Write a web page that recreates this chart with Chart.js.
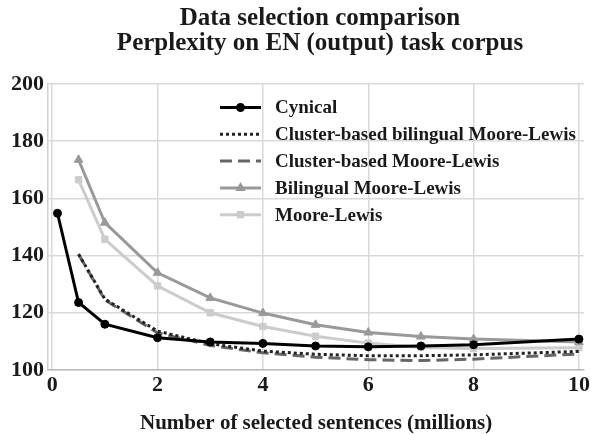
<!DOCTYPE html>
<html>
<head>
<meta charset="utf-8">
<script src="https://cdn.jsdelivr.net/npm/chart.js@4/dist/chart.umd.min.js"></script>
<style>
  html, body { margin: 0; padding: 0; background: #fff; }
  #wrap { width: 592px; height: 434px; }
</style>
</head>
<body>
<div id="wrap"><canvas id="perplexityChart"></canvas></div>
<script>
// Data
const titleLines = ['Data selection comparison', 'Perplexity on EN (output) task corpus'];
const seriesNames = ['Cynical', 'Cluster-based bilingual Moore-Lewis', 'Cluster-based Moore-Lewis', 'Bilingual Moore-Lewis', 'Moore-Lewis'];
const cynicalX = [0.1, 0.5, 1, 2, 3, 4, 5, 6, 7, 8, 10];
const cynicalY = [154.8, 123.6, 116, 111.3, 109.8, 109.3, 108.4, 108.1, 108.4, 108.8, 110.8];
const otherX = [0.5, 1, 2, 3, 4, 5, 6, 7, 8, 10];
const clusterBiY = [140.5, 124.8, 113.6, 109.2, 106.6, 105.5, 105, 105, 105.3, 106.5];
const clusterY = [140.5, 124.5, 113, 108.6, 106, 104.5, 103.6, 103.3, 103.8, 105.6];
const bilingualY = [173.5, 151.5, 134, 125.2, 119.9, 115.8, 113.1, 111.7, 110.8, 109.8];
const mooreLewisY = [166.5, 145.7, 129.4, 120, 115.2, 111.8, 109.4, 107.9, 107.5, 107.8];
const xTicks = [0, 2, 4, 6, 8, 10];
const yTicks = [100, 120, 140, 160, 180, 200];

const serif = "'Liberation Serif', 'DejaVu Serif', serif";

function toPoints(xs, ys) {
    return xs.map((x, i) => ({ x: x, y: ys[i] }));
}

// Two-line title, centred a bit right of the canvas middle like the original
const titleText = {
    id: 'titleText',
    afterDraw(chart) {
        const ctx = chart.ctx;
        ctx.save();
        ctx.fillStyle = '#1a1a1a';
        ctx.font = 'bold 25px ' + serif;
        ctx.textAlign = 'center';
        ctx.textBaseline = 'alphabetic';
        ctx.fillText(titleLines[0], 320, 25);
        ctx.fillText(titleLines[1], 320, 50);
        ctx.restore();
    }
};

// Legend drawn inside the plot area, like the original
const insideLegend = {
    id: 'insideLegend',
    afterDraw(chart) {
        const ctx = chart.ctx;
        const left = 220, top = 107.5, step = 26.8;
        ctx.save();
        chart.data.datasets.forEach((ds, i) => {
            const y = top + i * step;
            ctx.strokeStyle = ds.borderColor;
            ctx.lineWidth = ds.borderWidth;
            ctx.setLineDash(ds.borderDash || []);
            ctx.beginPath();
            ctx.moveTo(left, y);
            ctx.lineTo(left + 41, y);
            ctx.stroke();
            ctx.setLineDash([]);
            if (ds.pointRadius > 0) {
                ctx.fillStyle = ds.borderColor;
                ctx.strokeStyle = ds.borderColor;
                Chart.helpers.drawPoint(ctx, {
                    pointStyle: ds.pointStyle,
                    radius: 3,
                    rotation: 0,
                    borderWidth: 1
                }, left + 20.5, y);
            }
            ctx.fillStyle = '#1a1a1a';
            ctx.font = 'bold 19px ' + serif;
            ctx.textBaseline = 'middle';
            ctx.textAlign = 'left';
            ctx.fillText(ds.label, left + 55, y + 1);
        });
        ctx.restore();
    }
};

const ctx = document.getElementById('perplexityChart').getContext('2d');
new Chart(ctx, {
    type: 'line',
    data: {
        datasets: [
            {
                label: seriesNames[0],
                data: toPoints(cynicalX, cynicalY),
                borderColor: '#000000',
                backgroundColor: '#000000',
                borderWidth: 3,
                pointStyle: 'circle',
                pointRadius: 4,
                pointBorderWidth: 1
            },
            {
                label: seriesNames[1],
                data: toPoints(otherX, clusterBiY),
                borderColor: '#222222',
                backgroundColor: '#222222',
                borderWidth: 3,
                borderDash: [3, 3],
                pointRadius: 0
            },
            {
                label: seriesNames[2],
                data: toPoints(otherX, clusterY),
                borderColor: '#666666',
                backgroundColor: '#666666',
                borderWidth: 3,
                borderDash: [12, 6],
                pointRadius: 0
            },
            {
                label: seriesNames[3],
                data: toPoints(otherX, bilingualY),
                borderColor: '#999999',
                backgroundColor: '#999999',
                borderWidth: 3,
                pointStyle: 'triangle',
                pointRadius: 5,
                pointBorderWidth: 1
            },
            {
                label: seriesNames[4],
                data: toPoints(otherX, mooreLewisY),
                borderColor: '#cccccc',
                backgroundColor: '#cccccc',
                borderWidth: 3,
                pointStyle: 'rect',
                pointRadius: 4.5,
                pointBorderWidth: 1
            }
        ]
    },
    options: {
        responsive: true,
        maintainAspectRatio: false,
        animation: false,
        layout: { padding: { left: 0, right: 4, top: 84, bottom: 0 } },
        plugins: {
            legend: { display: false },
            tooltip: { enabled: false },
            title: { display: false }
        },
        scales: {
            x: {
                type: 'linear',
                min: -0.08,
                max: 10.1,
                afterBuildTicks: (scale) => {
                    scale.ticks = xTicks.map(v => ({ value: v }));
                },
                afterFit: (scale) => { scale.height = 64; },
                grid: { color: '#d9d9d9', lineWidth: 1.5, drawTicks: false },
                border: { color: '#bbbbbb', width: 1.5 },
                ticks: {
                    color: '#1a1a1a',
                    font: { family: serif, size: 22, weight: 'bold' },
                    padding: 2,
                    maxRotation: 0
                },
                title: {
                    display: true,
                    text: 'Number of selected sentences (millions)',
                    color: '#1a1a1a',
                    font: { family: serif, size: 21, weight: 'bold', lineHeight: 1 },
                    padding: { top: 14, bottom: 0 }
                }
            },
            y: {
                min: 100,
                max: 200,
                afterBuildTicks: (scale) => {
                    scale.ticks = yTicks.map(v => ({ value: v }));
                },
                afterFit: (scale) => { scale.width = 48; },
                grid: { color: '#d9d9d9', lineWidth: 1.5, drawTicks: false },
                border: { color: '#d0d0d0', width: 1.5 },
                ticks: {
                    color: '#1a1a1a',
                    font: { family: serif, size: 22, weight: 'bold' },
                    padding: 4
                }
            }
        }
    },
    plugins: [titleText, insideLegend]
});
</script>
</body>
</html>
